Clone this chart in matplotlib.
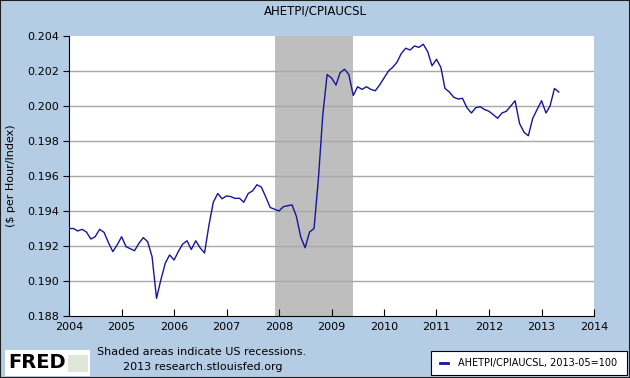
import matplotlib.pyplot as plt
import matplotlib.dates as mdates
import matplotlib.patches as mpatches
import pandas as pd

# monthly values, Jan 2004 .. May 2013
v2004 = [0.1930, 0.1930, 0.19286, 0.19295, 0.1928, 0.1924, 0.19253, 0.19295, 0.19278, 0.1922, 0.19168, 0.19206]
v2005 = [0.19253, 0.19196, 0.19185, 0.19173, 0.19215, 0.19248, 0.19225, 0.19139, 0.18901, 0.19006, 0.19102, 0.19149]
v2006 = [0.1912, 0.1917, 0.1921, 0.1923, 0.1918, 0.1923, 0.1919, 0.1916, 0.1932, 0.1945, 0.1950, 0.1947]
v2007 = [0.19486, 0.19482, 0.19472, 0.19473, 0.1945, 0.1950, 0.19515, 0.1955, 0.19536, 0.1948, 0.1942, 0.1941]
v2008 = [0.1940, 0.19425, 0.1943, 0.19435, 0.1937, 0.1925, 0.1919, 0.1928, 0.1930, 0.1958, 0.1995, 0.2018]
v2009 = [0.2016, 0.2012, 0.2019, 0.2021, 0.2018, 0.2006, 0.2011, 0.20095, 0.2011, 0.20095, 0.20087, 0.2012]
v2010 = [0.2016, 0.2020, 0.2022, 0.2025, 0.2030, 0.2033, 0.2032, 0.20343, 0.20335, 0.20353, 0.2031, 0.2023]
v2011 = [0.20267, 0.2022, 0.2010, 0.2008, 0.2005, 0.2004, 0.20044, 0.1999, 0.1996, 0.1999, 0.19996, 0.1998]
v2012 = [0.1997, 0.1995, 0.1993, 0.1996, 0.1997, 0.2000, 0.2003, 0.1990, 0.1985, 0.1983, 0.1993, 0.1998]
v2013 = [0.2003, 0.1996, 0.2000, 0.2010, 0.2008]

values = v2004 + v2005 + v2006 + v2007 + v2008 + v2009 + v2010 + v2011 + v2012 + v2013
dates = pd.date_range("2004-01-01", periods=len(values), freq="MS")

recession_start = pd.Timestamp("2007-12-01")
recession_end = pd.Timestamp("2009-06-01")

y_ticks = [0.188, 0.190, 0.192, 0.194, 0.196, 0.198, 0.200, 0.202, 0.204]
years = list(range(2004, 2015))

bg = "#b4cce4"
line_color = "#15159a"

fig = plt.figure(figsize=(6.3, 3.78), dpi=100, facecolor=bg)
ax = fig.add_axes([69 / 630, 1 - 316 / 378, 525 / 630, 280 / 378])
ax.set_facecolor("white")

ax.axvspan(recession_start, recession_end, color="#bebebe", lw=0, zorder=1)
for t in y_ticks[1:-1]:
    ax.axhline(t, color="#a8a8a8", lw=1, zorder=1.5)
ax.plot(dates, values, color=line_color, lw=1, zorder=3)

ax.set_xlim(pd.Timestamp("2004-01-01"), pd.Timestamp("2014-01-01"))
ax.set_ylim(0.188, 0.204)
ax.set_yticks(y_ticks)
ax.set_yticklabels([f"{t:.3f}" for t in y_ticks])
ax.set_xticks([pd.Timestamp(f"{y}-01-01") for y in years])
ax.xaxis.set_major_formatter(mdates.DateFormatter("%Y"))

for s in ["top", "right"]:
    ax.spines[s].set_visible(False)
ax.spines["left"].set_color("black")
ax.spines["bottom"].set_color("black")
ax.tick_params(axis="y", direction="out", length=4, labelsize=8, pad=3)
ax.tick_params(axis="x", direction="in", length=5, labelsize=8, pad=4)

ax.set_ylabel("($ per Hour/Index)", fontsize=8, labelpad=8)
fig.text(0.5, 1 - 11 / 378, "AHETPI/CPIAUCSL", ha="center", va="center", fontsize=8.5)

# footer
fig.text(97 / 630, 1 - 352 / 378, "Shaded areas indicate US recessions.", fontsize=8, va="center")
fig.text(123 / 630, 1 - 367 / 378, "2013 research.stlouisfed.org", fontsize=8, va="center")

fig.patches.append(mpatches.Rectangle((5 / 630, 1 - 376 / 378), 85 / 630, 26 / 378,
                                      transform=fig.transFigure, facecolor="white", edgecolor="none"))
fig.text(8 / 630, 1 - 363 / 378, "FRED", fontsize=14, fontweight="bold", va="center")
fig.patches.append(mpatches.Rectangle((68 / 630, 1 - 372 / 378), 20 / 630, 17 / 378,
                                      transform=fig.transFigure, facecolor="#dfe8d8", edgecolor="none"))

fig.patches.append(mpatches.Rectangle((431 / 630, 1 - 375 / 378), 196 / 630, 24 / 378,
                                      transform=fig.transFigure, facecolor="white", edgecolor="black", lw=0.8))
fig.lines.append(plt.Line2D([440 / 630, 448 / 630], [1 - 363 / 378, 1 - 363 / 378],
                            transform=fig.transFigure, color=line_color, lw=2))
fig.text(458 / 630, 1 - 363 / 378, "AHETPI/CPIAUCSL, 2013-05=100", fontsize=7, va="center")

fig.patches.append(mpatches.Rectangle((0, 0), 1, 1, transform=fig.transFigure,
                                      facecolor="none", edgecolor="#202020", lw=1.5))

fig.savefig("out.png", dpi=100, facecolor=bg)
